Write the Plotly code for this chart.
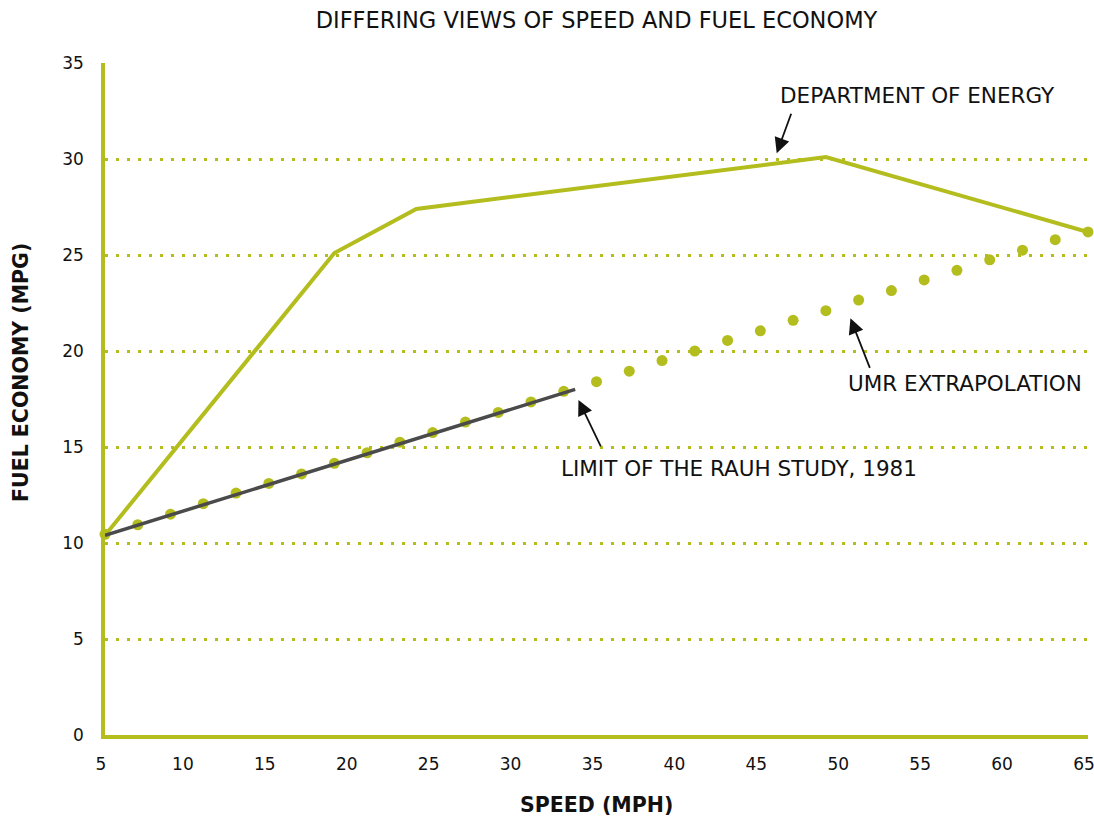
import plotly.graph_objects as go

# --- data ---
doe_speed = [5, 19, 24, 49, 65]
doe_mpg = [10.4, 25.1, 27.4, 30.1, 26.2]

umr_speed = [5, 7, 9, 11, 13, 15, 17, 19, 21, 23, 25, 27, 29, 31, 33, 35, 37, 39, 41, 43,
             45, 47, 49, 51, 53, 55, 57, 59, 61, 63, 65]
umr_mpg = [10.45, 10.95, 11.5, 12.05, 12.6, 13.1, 13.6, 14.15, 14.7, 15.25, 15.75, 16.3, 16.8,
           17.35, 17.9, 18.4, 18.95, 19.5, 20.0, 20.55, 21.05, 21.6, 22.1, 22.65, 23.15, 23.7,
           24.2, 24.75, 25.25, 25.8, 26.2]

rauh_speed = [5, 33.7]
rauh_mpg = [10.4, 18.0]

x_ticks = [5, 10, 15, 20, 25, 30, 35, 40, 45, 50, 55, 60, 65]
y_ticks = [0, 5, 10, 15, 20, 25, 30, 35]

LIME = "#b3bd1d"
FONT = "DejaVu Sans"
INK = "#111111"

W, H = 1094, 819

fig = go.Figure()
fig.add_trace(go.Scatter(x=doe_speed, y=doe_mpg, mode="lines",
                         line=dict(color=LIME, width=4), cliponaxis=False))
fig.add_trace(go.Scatter(x=umr_speed, y=umr_mpg, mode="markers",
                         marker=dict(color=LIME, size=11), cliponaxis=False))
fig.add_trace(go.Scatter(x=rauh_speed, y=rauh_mpg, mode="lines",
                         line=dict(color="#4a4a4a", width=3.5), cliponaxis=False))

anns = [
    dict(x=46.0, y=30.3, ax=15, ay=-41),
    dict(x=50.5, y=21.7, ax=20, ay=51),
    dict(x=33.9, y=17.45, ax=23, ay=48),
]
for a in anns:
    fig.add_annotation(x=a["x"], y=a["y"], ax=a["ax"], ay=a["ay"], xref="x", yref="y",
                       text="", showarrow=True, arrowhead=2, arrowsize=1.7,
                       arrowwidth=1.8, arrowcolor=INK)

labels = [
    ("DEPARTMENT OF ENERGY", 54.6, 33.3),
    ("UMR EXTRAPOLATION", 57.5, 18.3),
    ("LIMIT OF THE RAUH STUDY, 1981", 43.7, 13.9),
]
for t, x, y in labels:
    fig.add_annotation(x=x, y=y, xref="x", yref="y", text=t, showarrow=False,
                       font=dict(family=FONT, size=21.5, color=INK))

# axis titles
fig.add_annotation(x=0.5, y=0, xref="paper", yref="paper", yshift=-70, text="<b>SPEED (MPH)</b>",
                   showarrow=False, yanchor="middle", font=dict(family=FONT, size=20.5, color=INK))
fig.add_annotation(x=0, y=0.5, xref="paper", yref="paper", xshift=-84, yshift=26,
                   text="<b>FUEL ECONOMY (MPG)</b>", textangle=-90,
                   showarrow=False, xanchor="center", font=dict(family=FONT, size=20.5, color=INK))

fig.update_layout(
    width=W, height=H,
    margin=dict(l=105, r=6, t=63, b=84, autoexpand=False),
    paper_bgcolor="white", plot_bgcolor="white",
    showlegend=False,
    font=dict(family=FONT, color=INK),
    title=dict(text="DIFFERING VIEWS OF SPEED AND FUEL ECONOMY", x=0.5, xref="paper",
               xanchor="center", y=1 - 20 / H, yanchor="middle",
               font=dict(family=FONT, size=22.5, color=INK)),
)
fig.update_xaxes(range=[5, 65], tickvals=x_ticks, showgrid=False, zeroline=False,
                 showline=True, linecolor=LIME, linewidth=3.5, automargin=False,
                 ticks="", ticklabelstandoff=11, ticklabelshift=-4, ticklabeloverflow="allow",
                 tickfont=dict(family=FONT, size=17, color=INK))
fig.update_yaxes(range=[0, 35], tickvals=y_ticks, showgrid=True, gridcolor=LIME, gridwidth=3,
                 griddash="3px,8px", zeroline=False, automargin=False,
                 showline=True, linecolor=LIME, linewidth=3.5,
                 ticks="", ticklabelstandoff=14, tickfont=dict(family=FONT, size=17, color=INK))

post = ("document.documentElement.style.overflow='hidden';"
        "document.body.style.margin='0';document.body.style.overflow='hidden';")
fig.write_html("out.html", post_script=post, config={"displayModeBar": False})
